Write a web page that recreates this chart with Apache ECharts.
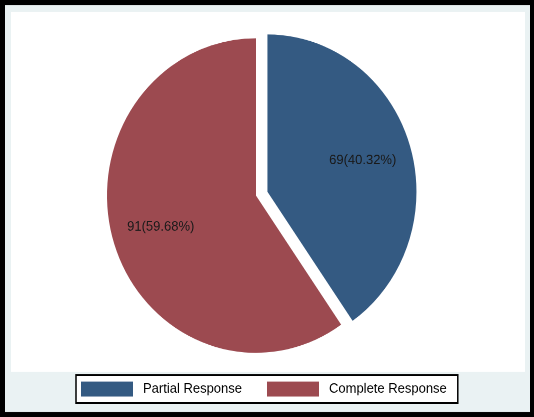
<!DOCTYPE html>
<html>
<head>
<meta charset="utf-8">
<script src="https://cdn.jsdelivr.net/npm/echarts@6/dist/echarts.min.js"></script>
<style>
  html, body { margin: 0; padding: 0; background: #000; width: 534px; height: 417px; }
  #wrap { width: 534px; height: 417px; position: relative; overflow: visible; }
  /* 原图略有纵向拉伸，这里按同样比例拉伸 */
  #chart { position: absolute; left: 0; top: 0; width: 534px; height: 395px; transform: scaleY(1.0557); transform-origin: 0 0; }
</style>
</head>
<body>
<div id="wrap"><div id="chart"></div></div>
<script>
// 数据
const categories = ['Partial Response', 'Complete Response']
const counts = [69, 91]
const percents = [40.32, 59.68]
const colors = ['#345a82', '#9c4a50']

const pieCenter = [256, 185.2]
const pieRadius = 149

const labelFmt = p => counts[p.dataIndex] + '(' + percents[p.dataIndex].toFixed(2) + '%)'

// 扇区数据，第一块分离
const sliceData = (transparent) => categories.map((name, i) => ({
  name,
  value: percents[i],
  selected: i === 0,
  itemStyle: { color: transparent ? 'rgba(0,0,0,0)' : colors[i] }
}))

const chart = echarts.init(document.getElementById('chart'), null, { devicePixelRatio: 2 })
chart.setOption({
  animation: false,
  backgroundColor: '#000',
  color: colors,
  graphic: [
    { type: 'rect', z: -10, shape: { x: 5, y: 4.7, width: 525, height: 385.5 }, style: { fill: '#eaf2f3' } },
    { type: 'rect', z: -9, shape: { x: 11, y: 11.4, width: 514, height: 341 }, style: { fill: '#fff' } }
  ],
  legend: {
    left: 76,
    top: 355.2,
    orient: 'horizontal',
    icon: 'rect',
    itemWidth: 52,
    itemHeight: 14.2,
    itemGap: 25,
    padding: [6.2, 11, 6.2, 5],
    backgroundColor: '#fff',
    borderColor: '#000',
    borderWidth: 1.5,
    borderRadius: 0,
    selectedMode: false,
    textStyle: {
      color: '#000',
      fontFamily: 'Liberation Sans, Arial, sans-serif',
      fontSize: 13,
      padding: [0, 0, 0, 5]
    },
    data: categories
  },
  series: [
    {
      type: 'pie',
      silent: true,
      center: pieCenter,
      radius: pieRadius,
      startAngle: 90,
      clockwise: true,
      selectedMode: 'multiple',
      selectedOffset: 12,
      itemStyle: { borderWidth: 0 },
      label: { show: false },
      labelLine: { show: false },
      data: sliceData(false)
    },
    {
      // 透明层，仅用于放置标签
      type: 'pie',
      silent: true,
      center: pieCenter,
      radius: pieRadius * 1.3,
      startAngle: 90,
      clockwise: true,
      selectedMode: 'multiple',
      selectedOffset: 12,
      itemStyle: { borderWidth: 0 },
      label: {
        show: true,
        position: 'inside',
        formatter: labelFmt,
        color: '#1a1a1a',
        fontFamily: 'Liberation Sans, Arial, sans-serif',
        fontSize: 13
      },
      labelLine: { show: false },
      data: sliceData(true)
    }
  ]
})
</script>
</body>
</html>
